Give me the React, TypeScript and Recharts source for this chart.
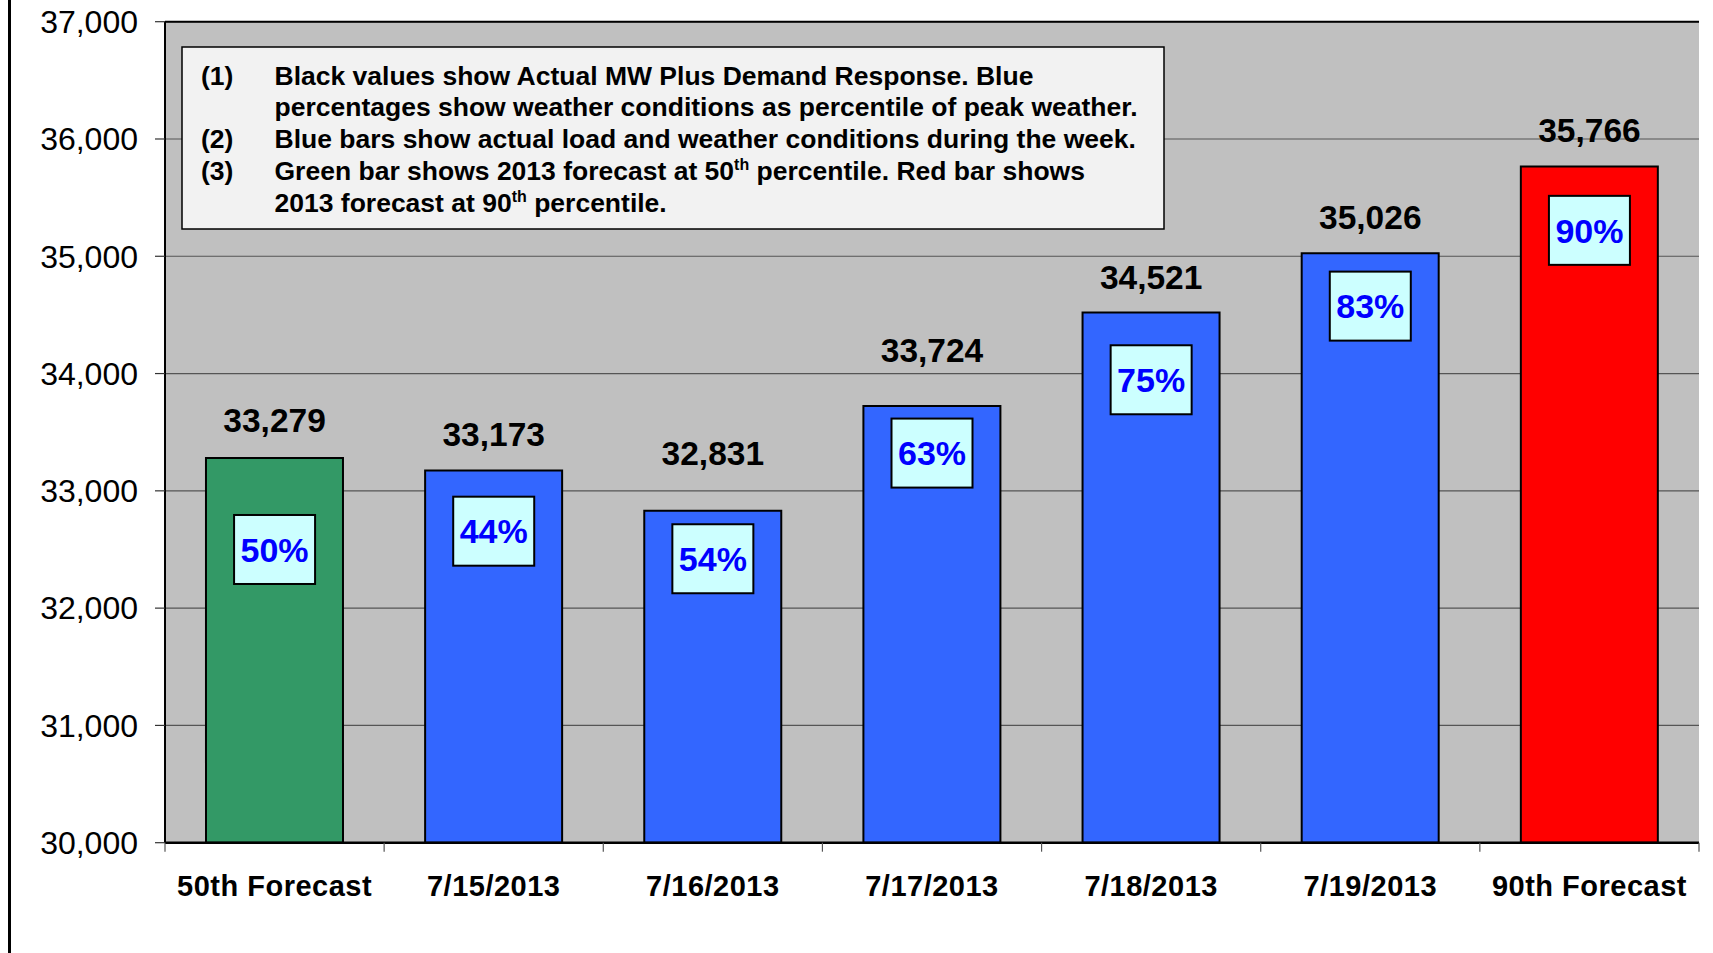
import React from 'react';
import {
  ComposedChart,
  Bar,
  Line,
  Cell,
  XAxis,
  YAxis,
  CartesianGrid,
  ReferenceLine,
} from 'recharts';

// ---- data ----
const categories = ['50th Forecast', '7/15/2013', '7/16/2013', '7/17/2013', '7/18/2013', '7/19/2013', '90th Forecast'];
const loadMW = [33279, 33173, 32831, 33724, 34521, 35026, 35766];
const weatherPct = [50, 44, 54, 63, 75, 83, 90];
// level (in MW units) at which each black value label is centred
const loadLabelAt = [33602, 33481, 33323, 34198, 34822, 35334, 36078];
// level (in MW units) at which each percentile box is centred
const pctLabelAt = [32500, 32656, 32421, 33322, 33947, 34575, 35221];
const yTicks = [30000, 31000, 32000, 33000, 34000, 35000, 36000, 37000];
const barColors = ['#339966', '#3366FF', '#3366FF', '#3366FF', '#3366FF', '#3366FF', '#FF0000'];

const data = categories.map((c, i) => ({
  category: c,
  load: loadMW[i],
  loadAt: loadLabelAt[i],
  pct: weatherPct[i],
  pctAt: pctLabelAt[i],
}));

const FONT = '"Liberation Sans", Arial, Helvetica, sans-serif';
const W = 1713;
const H = 953;

const fmt = (v: number) => v.toLocaleString('en-US');

const XTick = (props: any) => {
  const { x, y, payload, index, width } = props;
  const n = categories.length;
  const half = typeof width === 'number' && width > 0 ? width / n / 2 : (payload && payload.offset) || 0;
  const axisY = y - 33;
  return (
    <g>
      <line x1={x - half} x2={x - half} y1={axisY} y2={axisY + 9} stroke="#555" strokeWidth={1.2} />
      {index === n - 1 && (
        <line x1={x + half} x2={x + half} y1={axisY} y2={axisY + 9} stroke="#555" strokeWidth={1.2} />
      )}
      <text
        x={x}
        y={y}
        dy="0.71em"
        textAnchor="middle"
        fontFamily={FONT}
        fontSize={29}
        fontWeight="bold"
        letterSpacing={0.5}
        fill="#000"
      >
        {payload.value}
      </text>
    </g>
  );
};

const ValueText = (props: any) => {
  const { cx, cy, payload, index } = props;
  if (cx == null || cy == null) return <g key={`vt-${index}`} />;
  return (
    <text
      key={`vt-${index}`}
      x={cx}
      y={cy}
      dy="0.36em"
      textAnchor="middle"
      fontFamily={FONT}
      fontSize={33.5}
      fontWeight="bold"
      fill="#000"
    >
      {fmt(payload.load)}
    </text>
  );
};

const PctBox = (props: any) => {
  const { cx, cy, payload, index } = props;
  if (cx == null || cy == null) return <g key={`pb-${index}`} />;
  return (
    <g key={`pb-${index}`}>
      <rect x={cx - 40.5} y={cy - 34.5} width={81} height={69} fill="#CCFFFF" stroke="#000" strokeWidth={2} />
      <text
        x={cx}
        y={cy}
        dy="0.36em"
        textAnchor="middle"
        fontFamily={FONT}
        fontSize={34}
        fontWeight="bold"
        fill="#0000FF"
      >
        {payload.pct}%
      </text>
    </g>
  );
};

const NoteBox = () => {
  const numX = 201;
  const txtX = 274.5;
  const base = [84.5, 116.4, 148.2, 180, 212];
  const ts = { fontFamily: FONT, fontSize: 26.5, fontWeight: 'bold' as const, fill: '#000' };
  return (
    <svg
      width={W}
      height={H}
      style={{ position: 'absolute', left: 0, top: 0, pointerEvents: 'none' }}
    >
      <rect x={182} y={47} width={982} height={182} fill="#F2F2F2" stroke="#000" strokeWidth={1.5} />
      <text x={numX} y={base[0]} {...ts}>(1)</text>
      <text x={txtX} y={base[0]} {...ts}>Black values show Actual MW Plus Demand Response. Blue</text>
      <text x={txtX} y={base[1]} {...ts}>percentages show weather conditions as percentile of peak weather.</text>
      <text x={numX} y={base[2]} {...ts}>(2)</text>
      <text x={txtX} y={base[2]} {...ts}>Blue bars show actual load and weather conditions during the week.</text>
      <text x={numX} y={base[3]} {...ts}>(3)</text>
      <text x={txtX} y={base[3]} {...ts}>
        Green bar shows 2013 forecast at 50
        <tspan dy={-10} fontSize={16}>th</tspan>
        <tspan dy={10}> percentile. Red bar shows</tspan>
      </text>
      <text x={txtX} y={base[4]} {...ts}>
        2013 forecast at 90
        <tspan dy={-10} fontSize={16}>th</tspan>
        <tspan dy={10}> percentile.</tspan>
      </text>
    </svg>
  );
};

export default function App() {
  return (
    <div style={{ position: 'absolute', left: 0, top: 0, width: W, height: H, background: '#fff', overflow: 'hidden' }}>
      <div style={{ position: 'absolute', left: 8, top: 0, width: 2.5, height: H, background: '#000' }} />
      <ComposedChart
        width={W}
        height={H}
        data={data}
        margin={{ top: 21.7, right: 14, bottom: 50, left: 0 }}
        barCategoryGap="18.7%"
      >
        <CartesianGrid horizontal vertical={false} fill="#C0C0C0" stroke="#555" strokeWidth={1.2} />
        <XAxis
          dataKey="category"
          height={60.3}
          interval={0}
          tickLine={false}
          tickSize={0}
          tickMargin={33}
          axisLine={{ stroke: '#000', strokeWidth: 2.5 }}
          tick={<XTick />}
        />
        <YAxis
          type="number"
          domain={[30000, 37000]}
          ticks={yTicks}
          allowDataOverflow
          width={165}
          tickSize={10}
          tickMargin={17}
          tickLine={{ stroke: '#333', strokeWidth: 1.2 }}
          axisLine={{ stroke: '#000', strokeWidth: 2 }}
          tickFormatter={fmt}
          tick={{ fontFamily: FONT, fontSize: 32, fill: '#000' }}
        />
        <YAxis
          yAxisId="right"
          orientation="right"
          domain={[30000, 37000]}
          width={0}
          tick={false}
          tickLine={false}
          axisLine={{ stroke: '#000', strokeWidth: 2 }}
        />
        <ReferenceLine y={37000} stroke="#000" strokeWidth={2} ifOverflow="visible" />
        <Bar dataKey="load" stroke="#000" strokeWidth={2} isAnimationActive={false}>
          {data.map((d, i) => (
            <Cell key={d.category} fill={barColors[i]} />
          ))}
        </Bar>
        <Line
          dataKey="loadAt"
          stroke="none"
          dot={(p: any) => <ValueText key={`vt-${p.index}`} {...p} />}
          activeDot={false}
          legendType="none"
          isAnimationActive={false}
        />
        <Line
          dataKey="pctAt"
          stroke="none"
          dot={(p: any) => <PctBox key={`pb-${p.index}`} {...p} />}
          activeDot={false}
          legendType="none"
          isAnimationActive={false}
        />
      </ComposedChart>
      <NoteBox />
    </div>
  );
}
